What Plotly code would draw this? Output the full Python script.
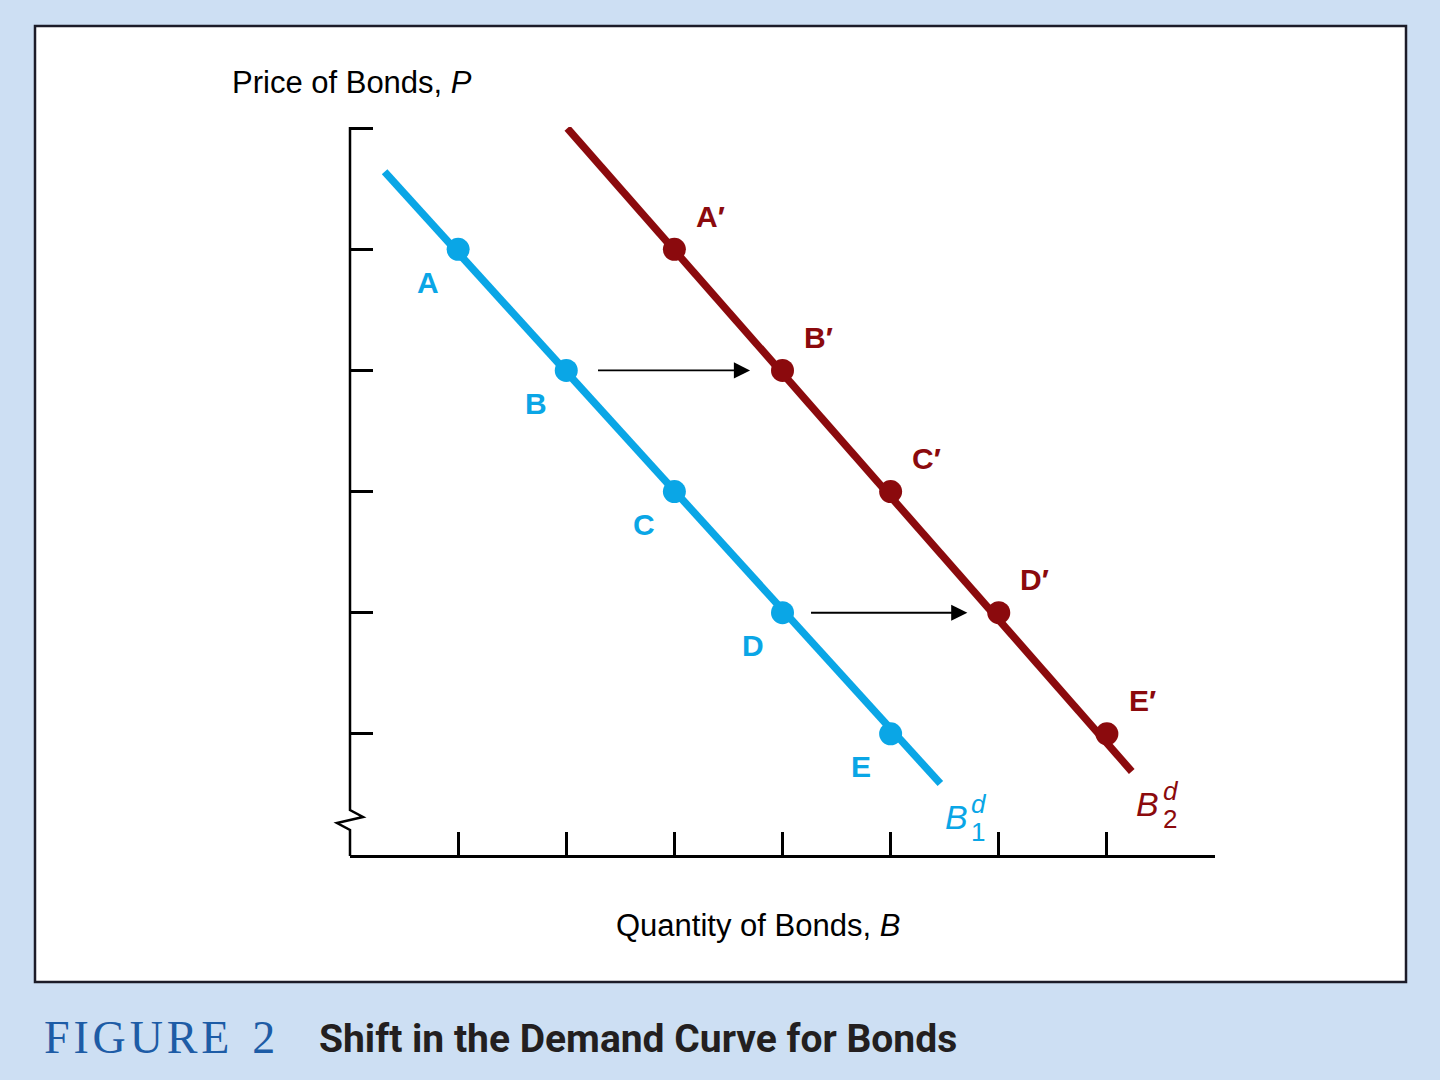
import plotly.graph_objects as go

# demand curves (price vs quantity, arbitrary units)
b1_line_x = [0.32, 5.46]
b1_line_y = [5.64, 0.59]
b2_line_x = [2.01, 7.23]
b2_line_y = [6.0, 0.69]

pt_y = [5, 4, 3, 2, 1]
b1_x = [1, 2, 3, 4, 5]
b2_x = [3, 4, 5, 6, 7]
b1_labels = ["A", "B", "C", "D", "E"]
b2_labels = ["A′", "B′", "C′", "D′", "E′"]

# shift arrows: (start qty, end qty, price)
shifts = [(2.28, 3.70, 4), (4.25, 5.71, 2)]

x_ticks = [1, 2, 3, 4, 5, 6, 7]
y_ticks = [1, 2, 3, 4, 5, 6]

BLUE = "#0aa6e6"
RED = "#8b0a0d"
W, H = 1440, 1080
FONT = "Liberation Sans, Arial, sans-serif"


def px(x):
    return x / W


def py(y):
    return 1 - y / H


fig = go.Figure()

fig.add_trace(go.Scatter(x=b1_line_x, y=b1_line_y, mode="lines",
                         line=dict(color=BLUE, width=7.5), cliponaxis=False))
fig.add_trace(go.Scatter(x=b2_line_x, y=b2_line_y, mode="lines",
                         line=dict(color=RED, width=7.5), cliponaxis=False))
fig.add_trace(go.Scatter(x=b1_x, y=pt_y, mode="markers",
                         marker=dict(color=BLUE, size=23), cliponaxis=False))
fig.add_trace(go.Scatter(x=b2_x, y=pt_y, mode="markers",
                         marker=dict(color=RED, size=23), cliponaxis=False))

ann = []
for x, y, t in zip(b1_x, pt_y, b1_labels):
    ann.append(dict(x=x, y=y, text=t, showarrow=False, xshift=-30, yshift=-33,
                    font=dict(family=FONT, size=30, color=BLUE, weight="bold")))
for x, y, t in zip(b2_x, pt_y, b2_labels):
    ann.append(dict(x=x, y=y, text=t, showarrow=False, xshift=36, yshift=33,
                    font=dict(family=FONT, size=30, color=RED, weight="bold")))

for x0, x1, y in shifts:
    ann.append(dict(x=x1, y=y, ax=x0, ay=y, axref="x", ayref="y", text="",
                    showarrow=True, arrowhead=2, arrowsize=1.8, arrowwidth=1.8,
                    arrowcolor="black", standoff=0))

# curve names B1^d, B2^d at the lower ends of the lines
for lx, ly, sub, col in [(b1_line_x[1], b1_line_y[1], "1", BLUE),
                         (b2_line_x[1], b2_line_y[1], "2", RED)]:
    ann.append(dict(x=lx, y=ly, text="<i>B</i>", showarrow=False, xshift=16, yshift=-33,
                    font=dict(family=FONT, size=34, color=col)))
    ann.append(dict(x=lx, y=ly, text="<i>d</i>", showarrow=False, xshift=39, yshift=-20,
                    font=dict(family=FONT, size=26, color=col)))
    ann.append(dict(x=lx, y=ly, text=sub, showarrow=False, xshift=38, yshift=-48,
                    font=dict(family=FONT, size=26, color=col)))

ann.append(dict(x=px(352), y=py(83), xref="paper", yref="paper", showarrow=False,
                xanchor="center", yanchor="middle",
                text="Price of Bonds, <i>P</i>", font=dict(family=FONT, size=31, color="black")))
ann.append(dict(x=px(758), y=py(925), xref="paper", yref="paper", showarrow=False,
                xanchor="center", yanchor="middle",
                text="Quantity of Bonds, <i>B</i>", font=dict(family=FONT, size=31, color="black")))

ann.append(dict(x=px(42), y=py(1037), xref="paper", yref="paper", showarrow=False,
                xanchor="left", yanchor="middle", text="F\u200aI\u200aG\u200aU\u200aR\u200aE\u20022",
                font=dict(family="Liberation Serif, Times New Roman, serif", size=46, color="#1d5ca6")))
ann.append(dict(x=px(317), y=py(1039), xref="paper", yref="paper", showarrow=False,
                xanchor="left", yanchor="middle", text="<b>Shift in the Demand Curve for Bonds</b>",
                font=dict(family="Roboto, Liberation Sans, sans-serif",
                          size=39, color="#231f20")))

shapes = [
    dict(type="rect", xref="paper", yref="paper", x0=px(35), x1=px(1406), y0=py(982), y1=py(26),
         fillcolor="white", line=dict(color="#1c1c28", width=2.5), layer="below"),
    # vertical axis with a break mark
    dict(type="path", xref="paper", yref="paper",
         path=f"M {px(350)},{py(127)} L {px(350)},{py(810)} L {px(363)},{py(817)} "
              f"L {px(337)},{py(823)} L {px(350)},{py(830)} L {px(350)},{py(856)}",
         line=dict(color="black", width=2.5)),
]

fig.update_layout(
    width=W, height=H, margin=dict(l=0, r=0, t=0, b=0),
    paper_bgcolor="#cddff3", plot_bgcolor="rgba(0,0,0,0)",
    showlegend=False, annotations=ann, shapes=shapes,
    xaxis=dict(domain=[px(350), px(1215)], range=[0, 8], showgrid=False, zeroline=False,
               showline=True, linecolor="black", linewidth=2.5,
               tickvals=x_ticks, ticks="inside", ticklen=23, tickwidth=2.5, tickcolor="black",
               showticklabels=False, fixedrange=True),
    yaxis=dict(domain=[py(855), py(127)], range=[0, 6.01], showgrid=False, zeroline=False,
               showline=False, tickvals=y_ticks, ticks="inside", ticklen=23, tickwidth=2.5,
               tickcolor="black", showticklabels=False, fixedrange=True),
)

fig.write_html("out.html", config={"displayModeBar": False},
               post_script="document.body.style.margin='0px';")
